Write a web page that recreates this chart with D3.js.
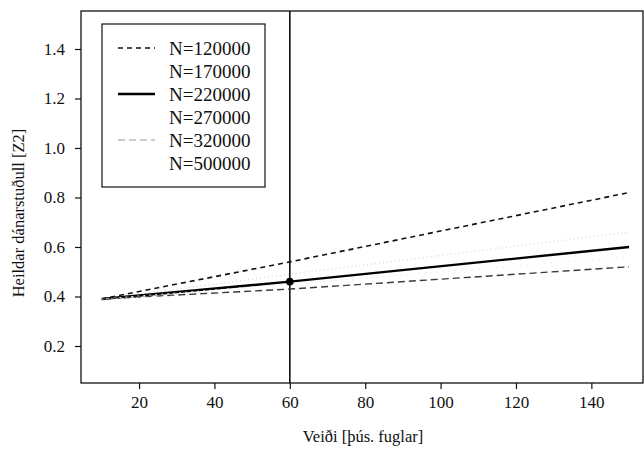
<!DOCTYPE html>
<html>
<head>
<meta charset="utf-8">
<script src="https://cdn.jsdelivr.net/npm/d3@7"></script>
<style>
  body { margin: 0; background: #fff; }
  svg { display: block; font-family: "Liberation Serif", "DejaVu Serif", serif; }
</style>
</head>
<body>
<svg id="chart" width="644" height="450"></svg>
<script>
// ---- data ----
const catchX = [10, 60, 150];                 // Veiði [þús. fuglar]
const seriesNames = ["N=120000", "N=170000", "N=220000", "N=270000", "N=320000", "N=500000"];
const z120 = [0.39, 0.54, 0.82];
const z170 = [0.39, 0.49, 0.66];
const z220 = [0.39, 0.46, 0.60];
const z270 = [0.39, 0.45, 0.56];
const z320 = [0.39, 0.43, 0.52];
const z500 = [0.39, 0.42, 0.47];
const xTicks = [20, 40, 60, 80, 100, 120, 140];
const yTicks = [0.2, 0.4, 0.6, 0.8, 1.0, 1.2, 1.4];
const refCatch = 60;
const refZ = 0.46;

const seriesValues = [z120, z170, z220, z270, z320, z500];
const styles = [
  { stroke: "#111", width: 1.6, dash: "5,4" },
  { stroke: "#d0d0d0", width: 1, dash: "1,3" },
  { stroke: "#000", width: 2.4, dash: null },
  { stroke: "#f0f0f0", width: 1, dash: "2,4" },
  { stroke: "#3a3a3a", width: 1.4, dash: "7,4" },
  { stroke: "#f6f6f6", width: 1, dash: "1,4" }
];
const legendStroke = ["#111", "#fff", "#000", "#fff", "#bbb", "#fff"];

const svg = d3.select("#chart");
const L = 81, R = 643, T = 11, B = 383;
const x = d3.scaleLinear().domain([4.6, 153.7]).range([L, R]);
const y = d3.scaleLinear().domain([0.0505, 1.5535]).range([B, T]);

// frame
svg.append("rect").attr("x", L).attr("y", T).attr("width", R - L).attr("height", B - T)
  .attr("fill", "none").attr("stroke", "#111").attr("stroke-width", 1.3);

// axes
const xAxis = svg.append("g").attr("transform", `translate(0,${B})`)
  .call(d3.axisBottom(x).tickValues(xTicks).tickSize(6).tickPadding(7).tickFormat(d3.format("d")));
const yAxis = svg.append("g").attr("transform", `translate(${L},0)`)
  .call(d3.axisLeft(y).tickValues(yTicks).tickSize(6).tickPadding(10).tickFormat(d3.format(".1f")));
[xAxis, yAxis].forEach(g => {
  g.select(".domain").remove();
  g.selectAll("line").attr("stroke", "#111").attr("stroke-width", 1.2);
  g.selectAll("text").attr("fill", "#111").style("font-size", "17px")
    .style("font-family", "'Liberation Serif', serif");
});

// vertical reference line
svg.append("line").attr("x1", x(refCatch)).attr("x2", x(refCatch))
  .attr("y1", T).attr("y2", B).attr("stroke", "#111").attr("stroke-width", 1.6);

// series lines
const line = d3.line().x((d, i) => x(catchX[i])).y(d => y(d));
seriesValues.forEach((vals, k) => {
  const s = styles[k];
  svg.append("path").datum(vals).attr("d", line)
    .attr("fill", "none").attr("stroke", s.stroke).attr("stroke-width", s.width)
    .attr("stroke-dasharray", s.dash);
});

// reference point
svg.append("circle").attr("cx", x(refCatch)).attr("cy", y(refZ)).attr("r", 3.8).attr("fill", "#000");

// legend
const lg = svg.append("g");
lg.append("rect").attr("x", 102).attr("y", 24).attr("width", 163).attr("height", 163)
  .attr("fill", "#fff").attr("stroke", "#111").attr("stroke-width", 1.2);
seriesNames.forEach((name, k) => {
  const cy = 48 + k * 23;
  const s = styles[k];
  lg.append("line").attr("x1", 118).attr("x2", 155).attr("y1", cy).attr("y2", cy)
    .attr("stroke", legendStroke[k]).attr("stroke-width", s.width).attr("stroke-dasharray", s.dash);
  lg.append("text").attr("x", 169).attr("y", cy).attr("dy", "0.35em")
    .attr("fill", "#111").style("font-size", "19px").text(name);
});

// axis titles
svg.append("text").attr("x", 363).attr("y", 442).attr("text-anchor", "middle")
  .attr("fill", "#111").style("font-size", "16.5px").text("Veiði [þús. fuglar]");
svg.append("text").attr("transform", `translate(24,213) rotate(-90)`)
  .attr("text-anchor", "middle").attr("fill", "#111").style("font-size", "16.5px")
  .text("Heildar dánarstuðull [Z2]");
</script>
</body>
</html>
